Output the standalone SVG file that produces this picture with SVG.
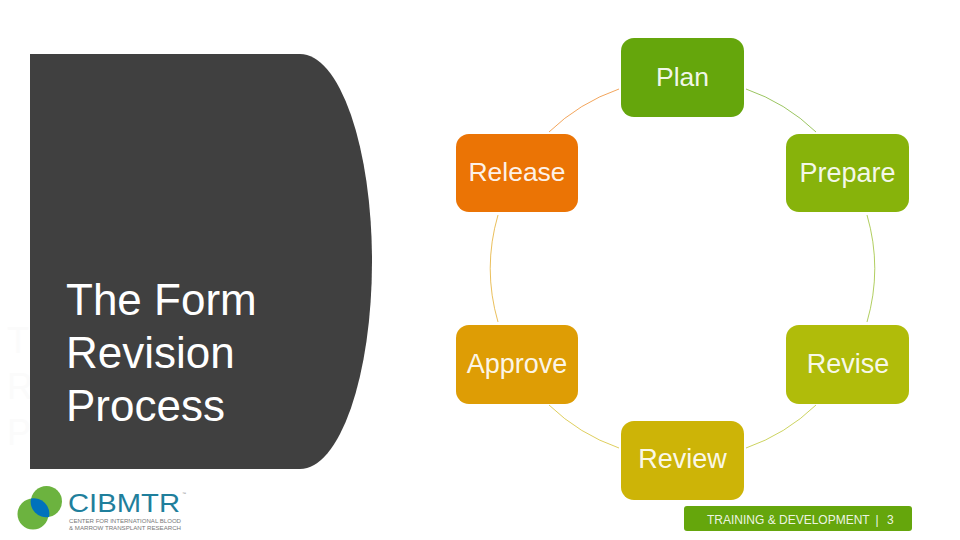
<svg xmlns="http://www.w3.org/2000/svg" width="960" height="540" viewBox="0 0 960 540">
<style>
text{font-family:"Liberation Sans",Arial,sans-serif}
.n{stroke:none}
.l{fill:#fff;font-size:27px;text-anchor:middle;fill-opacity:.93}
.m{font-size:26.500px}
.t{fill:#fff;font-size:44px}
.g{fill:#fbfbfb;font-size:36px}
.c{fill:none;stroke-width:1;stroke-opacity:.65}
.f{fill:#fff;font-size:12px;fill-opacity:.9}
.s{fill:#777;font-size:6px}
</style>
<rect width="960" height="540" fill="#fff"/>
<g id="ghost"><text class="g" x="7" y="353">T</text><text class="g" x="7" y="399">R</text><text class="g" x="7" y="445">P</text></g>
<path id="panel" d="M30 54H300A72 207.500 0 0 1 300 469H30Z" fill="#404040"/>
<g id="title"><text class="t" x="66" y="315">The Form</text><text class="t" x="66" y="368">Revision</text><text class="t" x="66" y="421">Process</text></g>
<g id="connectors">
<path class="c" stroke="#65a60c" d="M746 89A191.500 191.500 0 0 1 816 132"/>
<path class="c" stroke="#87b30b" d="M867 215A191.500 191.500 0 0 1 867 322"/>
<path class="c" stroke="#b0bc0a" d="M816 405A191.500 191.500 0 0 1 746 448"/>
<path class="c" stroke="#cdb407" d="M619 448A191.500 191.500 0 0 1 549 405"/>
<path class="c" stroke="#de9d05" d="M498 322A191.500 191.500 0 0 1 498 215"/>
<path class="c" stroke="#eb7405" d="M549 132A191.500 191.500 0 0 1 619 89"/>
</g>
<g id="plan"><rect class="n" x="621" y="38" width="123" height="79" rx="13" fill="#65a60c"/><text class="l m" x="682.500" y="86">Plan</text></g>
<g id="prepare"><rect class="n" x="786" y="134" width="123" height="78" rx="13" fill="#87b30b"/><text class="l" x="847.500" y="182">Prepare</text></g>
<g id="revise"><rect class="n" x="786" y="325" width="123" height="79" rx="13" fill="#b0bc0a"/><text class="l" x="848" y="373">Revise</text></g>
<g id="review"><rect class="n" x="621" y="421" width="123" height="79" rx="13" fill="#cdb407"/><text class="l" x="682.500" y="468">Review</text></g>
<g id="approve"><rect class="n" x="456" y="325" width="122" height="79" rx="13" fill="#de9d05"/><text class="l" x="517" y="373">Approve</text></g>
<g id="release"><rect class="n" x="456" y="134" width="122" height="78" rx="13" fill="#eb7405"/><text class="l m" x="517" y="181">Release</text></g>
<g id="footer"><rect x="684" y="506" width="228" height="25" rx="3" fill="#65a60c"/><text class="f" x="707" y="524">TRAINING &amp; DEVELOPMENT</text><text class="f" x="875.500" y="524">|</text><text class="f" x="887" y="524">3</text></g>
<g id="logo">
<circle cx="33" cy="514" r="15.500" fill="#6cb33f"/>
<circle cx="46.500" cy="501.500" r="15.500" fill="#6cb33f"/>
<path d="M31 498.500A15.500 15.500 0 0 1 49 517A15.500 15.500 0 0 1 31 498.500Z" fill="#0072bc"/>
<text x="68" y="512" font-size="26.500" fill="#1f7f9c" textLength="112" lengthAdjust="spacingAndGlyphs">CIBMTR</text>
<text x="182" y="495" font-size="4" fill="#888">™</text>
<text class="s" x="69" y="523" textLength="112" lengthAdjust="spacingAndGlyphs">CENTER FOR INTERNATIONAL BLOOD</text>
<text class="s" x="69" y="530" textLength="112" lengthAdjust="spacingAndGlyphs">&amp; MARROW TRANSPLANT RESEARCH</text>
</g>
</svg>
